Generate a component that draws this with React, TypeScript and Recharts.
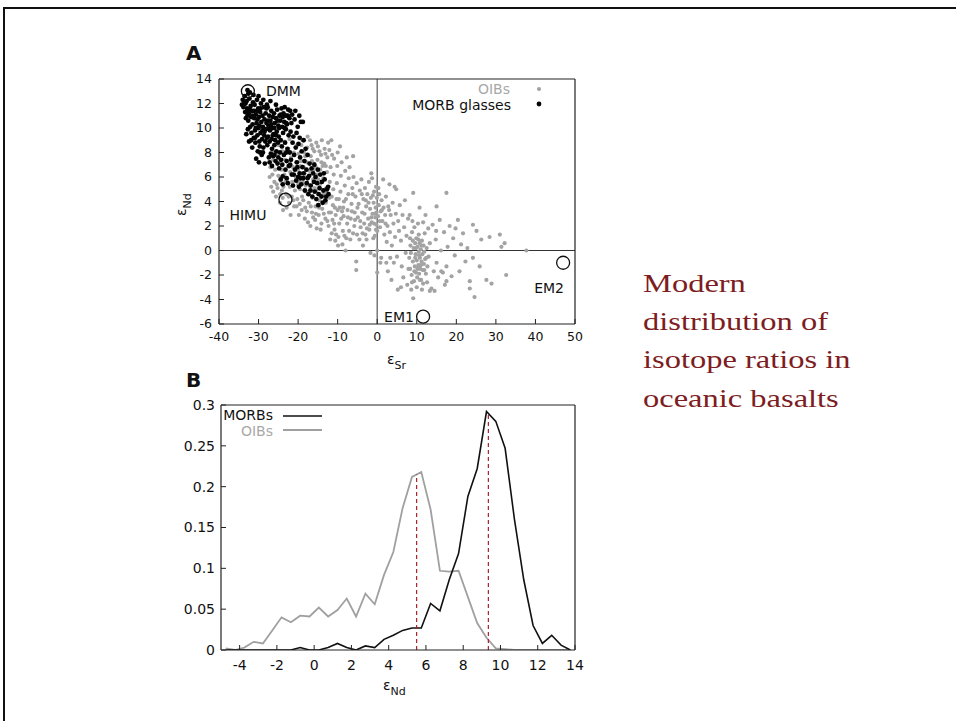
import React from "react";
import {
  ScatterChart,
  Scatter,
  LineChart,
  Line,
  XAxis,
  YAxis,
  ReferenceLine,
} from "recharts";

// panel A: eps Sr vs eps Nd, [Sr, Nd]
const oibPoints: [number, number][] = [
  [-27,6.8],[-26.5,6.2],[-26.3,7.4],[-26,5.6],[-25.8,6.6],[-25.5,7.9],[-25.2,5.1],[-25,6.1],[-24.8,7.2],[-24.5,4.6],
  [-24.4,5.7],[-24.2,6.6],[-24,8.1],[-23.8,3.3],[-23.7,5.2],[-23.5,6.2],[-23.3,7.4],[-23,4.6],[-22.8,5.8],[-22.6,6.9],
  [-22.5,8.3],[-22.3,3.9],[-22.1,5.2],[-22,6.4],[-21.8,7.6],[-21.6,4.4],[-21.5,5.6],[-21.3,6.8],[-21.1,8.0],[-21,3.6],
  [-20.8,4.9],[-20.6,6.0],[-20.5,7.2],[-20.3,8.6],[-20.2,4.2],[-20,5.4],[-20,6.6],[-24.6,3.9],[-23.9,4.3],[-22.9,3.5],
  [-21.9,2.9],[-25.6,4.4],[-26.8,5.2],[-27.2,6.0],[-26.1,8.0],[-24.9,8.6],[-23.4,8.9],[-22.2,9.1],
  [-19.8,2.9],[-19.6,3.8],[-19.5,5.0],[-19.4,6.2],[-19.3,7.3],[-19.2,8.6],[-19,4.4],[-18.8,5.6],[-18.6,6.8],[-18.5,8.0],
  [-18.3,2.6],[-18.2,3.5],[-18,4.8],[-17.9,6.0],[-17.8,7.2],[-17.7,8.4],[-17.6,9.3],[-17.5,2.3],[-17.3,3.9],[-17.1,5.3],
  [-17,6.5],[-16.8,7.7],[-16.6,8.6],[-16.5,3.1],[-16.4,4.3],[-16.2,5.8],[-16,7.1],[-15.9,8.1],[-15.7,2.5],[-15.6,3.6],
  [-15.4,4.9],[-15.2,6.2],[-15.1,7.4],[-15,8.5],[-14.8,2.9],[-14.6,4.1],[-14.5,5.4],[-14.4,6.6],[-14.2,7.8],[-14.1,2.2],
  [-14,9.0],[-13.9,3.4],[-13.7,4.6],[-13.6,5.9],[-13.4,7.1],[-13.3,8.3],[-13.1,2.6],[-13,3.9],[-12.9,5.1],[-12.7,6.4],
  [-12.6,7.6],[-12.4,8.8],[-12.3,2.0],[-12.2,3.1],[-12.1,4.3],[-12,5.6],[-18.9,9.0],[-16.9,2.0],[-15.3,1.8],[-14.3,1.7],
  [-19.9,7.9],[-17.4,4.6],[-16.1,6.6],[-14.9,5.8],[-13.8,6.9],[-12.8,4.7],[-18.4,6.3],[-15.8,5.1],
  [-26.3,4.8],[-25.4,5.4],[-24.1,4.9],[-23.2,5.6],[-22.4,4.4],[-21.2,4.1],[-20.4,3.6],[-19.1,3.3],[-18.7,4.1],[-17.8,3.2],
  [-16.8,3.6],[-16.2,2.7],[-15.5,3.0],[-14.7,3.5],[-13.5,3.0],[-12.6,2.4],[-19.7,5.6],[-18.1,5.3],[-16.7,4.9],[-15.5,5.6],
  [-14.2,5.0],[-13.2,4.4],[-19.4,6.9],[-17.9,6.6],[-16.5,7.3],[-15.5,6.8],[-14.1,7.2],[-13,6.9],[-18.2,7.7],[-16.3,8.3],
  [-14.6,8.1],[-13.1,7.9],[-17,9.0],[-15.4,8.8],[-12.1,8.2],
  [-11.8,6.8],[-11.6,9.0],[-11.5,1.4],[-11.3,2.5],[-11.2,3.7],[-11.1,5.0],[-11,6.2],[-10.9,7.5],[-10.8,1.7],[-10.6,0.8],
  [-10.5,2.9],[-10.3,4.2],[-10.2,5.5],[-10.1,6.9],[-10,8.0],[-9.8,1.1],[-9.6,2.2],[-9.5,3.5],[-9.3,4.8],[-9.2,6.1],
  [-9,7.2],[-8.8,0.5],[-8.7,1.6],[-8.5,2.8],[-8.4,4.0],[-8.2,5.3],[-8.1,6.5],[-8,0.0],[-7.8,1.0],[-7.6,2.2],
  [-7.5,3.3],[-7.3,4.6],[-7.2,5.9],[-7,6.8],[-6.8,0.9],[-6.7,2.6],[-6.5,3.8],[-6.3,5.1],[-6.1,7.7],[-6.1,1.4],
  [-6,6.0],[-5.8,2.0],[-5.7,3.1],[-5.5,4.4],[-5.3,-0.9],[-5.3,-1.6],[-5.2,5.5],[-5.1,1.3],[-9.4,8.5],[-11.4,7.8],
  [-7.7,7.6],[-8.9,3.2],[-10.7,3.5],
  [-11.7,3.1],[-11.5,4.4],[-10.9,2.2],[-10.4,1.3],[-10,3.3],[-9.7,4.2],[-9.1,2.6],[-8.6,3.5],[-8.3,1.2],[-7.9,4.2],
  [-7.4,2.7],[-7.1,1.6],[-6.4,3.2],[-6.2,4.6],[-5.6,2.5],[-9.9,0.4],[-11.9,0.9],
  [-4.9,2.7],[-4.7,3.8],[-4.5,0.9],[-4.4,4.9],[-4.2,1.9],[-4,5.8],[-3.8,3.1],[-3.6,0.4],[-3.5,4.2],[-3.3,2.2],
  [-3.1,5.1],[-3,1.3],[-2.8,3.6],[-2.7,0.9],[-2.5,4.6],[-2.3,2.6],[-2.1,5.6],[-2,1.7],[-1.8,3.4],[-1.6,4.3],
  [-1.5,6.3],[-1.4,2.3],[-1.3,5.9],[-1.2,3.0],[-1,1.0],[-0.9,3.9],[-0.8,4.8],[-0.6,1.2],[-0.5,2.7],[-0.4,3.5],
  [-0.3,5.2],[-0.2,2.1],[-0.1,4.3],[0,1.6],[0,0],[0,-1.8],[-0.2,3.1],[-0.7,-0.4],[-1.7,-0.2],
  [-5,3.5],[-4.3,2.4],[-3.9,4.6],[-3.2,3.0],[-2.6,1.8],[-2.2,3.9],[-1.5,2.7],[-1.1,4.5],[-0.6,3.0],[-0.3,1.7],
  [-0.8,2.2],[-1.9,2.1],[-3.7,1.4],[-2.9,4.1],
  [0.2,2.8],[0.4,3.7],[0.5,4.6],[0.7,1.9],[0.9,3.2],[1.1,4.1],[1.3,2.4],[1.5,5.8],[1.6,3.5],[1.8,1.3],
  [2,2.9],[2.2,4.4],[2.4,0.7],[2.6,2.0],[2.7,-1.7],[2.8,3.6],[3.1,5.4],[3.2,1.5],[3.4,2.9],[3.6,-2.4],
  [3.7,0.4],[3.9,3.9],[4.1,2.2],[4.4,5.2],[4.5,1.1],[4.7,3.0],[4.8,5.0],[5,-0.5],[5.2,-3.2],[5.3,2.4],
  [5.5,1.6],[5.7,3.7],[6,0.8],[6.2,-1.3],[6.4,2.9],[6.6,-2.2],[6.8,1.9],[7,4.1],[7.2,-0.2],[7.4,1.2],
  [7.6,-2.8],[7.8,2.6],[4.2,-1.0],[1.0,-0.6],[6.0,-3.0],
  [0.6,2.4],[1.2,3.3],[2.1,2.2],[3.0,3.3],[0.3,5.1],[0.8,-1.0],[2.3,-1.0],[3.3,-0.6],
  [8.1,-0.6],[8.2,2.9],[8.3,-1.5],[8.4,0.4],[8.6,-3.2],[8.7,-2.0],[8.8,1.5],[9,-0.9],[9.1,-3.9],[9.1,4.7],
  [9.2,0.2],[9.3,-2.5],[9.5,-1.3],[9.6,0.6],[9.7,-0.3],[9.8,-1.8],[9.9,1.0],[10,-0.8],[10.1,-2.2],[10.2,0.3],
  [10.3,2.2],[10.4,-1.2],[10.5,-0.1],[10.6,-1.9],[10.7,3.5],[10.7,0.6],[10.8,-0.6],[10.9,-1.5],[11,0.1],[11.1,-2.4],
  [11.2,-0.9],[11.3,0.8],[11.4,-0.3],[11.5,-1.6],[11.6,-2.7],[11.7,0.4],[11.8,-1.1],[11.9,-0.1],[12,1.4],[12.1,-0.7],
  [12.3,-1.9],[12.5,0.2],[12.7,-1.3],[12.9,1.8],[13,-0.5],[9.4,1.9],[10.5,1.3],[11.6,2.3],[8.9,2.4],[12.2,2.9],
  [8.5,-0.2],[9.0,0.8],[9.4,-1.7],[9.8,0.2],[10.2,-1.5],[10.6,-0.4],[11.0,-1.2],[11.2,0.4],[10.4,0.9],[9.6,-0.6],
  [10.8,-2.4],[11.9,-1.6],[12.4,-0.6],[8.3,1.0],[7.9,-1.5],[8.8,-2.6],[10.0,-3.0],[11.3,-3.2],[12.6,-2.6],
  [13.3,0.6],[13.3,-3.3],[13.7,-3.1],[14,2.1],[14.3,-1.7],[14.5,-3.3],[14.8,0.9],[15,-1],[15,3.6],[15.4,-2.2],
  [15.8,2.5],[16.2,-1.7],[16.6,-1.8],[16.9,1.5],[17.1,-2.8],[17.5,-1.3],[17.5,-2.5],[17.5,4.7],[17.8,0.3],[18.3,2],
  [18.8,-2.1],[19.2,1.0],[19.6,-0.4],[20.4,2.5],[20.8,-1.7],[21.2,0.5],[21.7,1.4],[22.3,-0.9],[23.4,-2.5],[23.4,-3.1],
  [24.2,2.1],[24.2,-0.6],[24.6,-3.8],[25.1,1.6],[25.9,-1.3],[26.3,0.9],[27.6,-2.4],[28.4,1.1],[28.9,-2.7],[31,1.3],
  [31.4,0.3],[32.2,0.6],[32.6,-2],[37.7,0],[19.8,1.8],[22.8,0.2],[16.1,0.0],[14.9,1.6],
];

const morbPoints: [number, number][] = [
  [-34,12.3],[-33.8,11.7],[-33.6,12.0],[-33.4,11.3],[-33.2,10.8],[-33,12.2],[-32.9,11.6],[-32.7,9.9],[-32.6,10.6],[-32.5,11.2],
  [-32.3,12.4],[-32.1,10.1],[-32,11.8],[-31.9,10.9],[-31.8,9.6],[-31.7,11.4],[-31.5,10.3],[-31.4,12.1],[-31.2,9.2],[-31.1,10.8],
  [-31,11.9],[-30.9,9.8],[-30.8,8.8],[-30.7,11.1],[-30.5,10.4],[-30.4,12.3],[-30.3,9.4],[-30.2,8.1],[-30.1,11.6],[-30,10.0],
  [-29.9,10.9],[-29.8,8.9],[-29.7,8.5],[-29.6,11.3],[-29.5,9.6],[-29.4,12.0],[-29.3,10.5],[-29.2,7.8],[-29.1,9.1],[-29,11.0],
  [-28.9,10.1],[-28.8,8.4],[-28.7,11.7],[-28.6,9.4],[-28.5,10.7],[-28.4,7.1],[-28.3,8.9],[-28.2,11.2],[-28.1,9.9],[-28,10.4],
  [-31.6,8.4],[-30.6,7.5],[-29.9,7.2],[-33.1,9.5],[-32.4,8.9],[-30.0,12.6],[-31.3,12.7],[-28.8,12.3],[-33.5,12.6],
  [-32.8,13.1],[-32.2,12.9],[-32.6,12.8],
  [-33.3,12.0],[-32.8,11.0],[-32.2,11.5],[-31.6,11.0],[-31.2,11.4],[-30.7,10.0],[-30.3,10.7],[-29.8,10.2],[-29.5,11.6],[-29.0,9.8],
  [-28.5,9.7],[-28.0,11.6],[-31.9,9.0],[-30.9,9.2],[-29.6,8.0],[-28.9,8.0],[-30.4,11.4],[-33.0,11.3],[-34.2,11.9],
  [-27.9,11.9],[-27.8,8.6],[-27.7,11.7],[-27.6,9.3],[-27.5,10.2],[-27.4,7.6],[-27.3,11.0],[-27.2,8.9],[-27.1,9.8],[-27,10.6],
  [-26.9,7.9],[-26.8,11.4],[-26.7,9.1],[-26.6,8.3],[-26.5,10.0],[-26.4,10.9],[-26.3,7.7],[-26.2,9.5],[-26.1,11.2],[-26,8.6],
  [-25.9,10.4],[-25.8,9.0],[-25.7,7.3],[-25.6,10.8],[-25.5,8.1],[-25.4,9.7],[-25.3,11.5],[-25.2,7.1],[-25.1,8.8],[-25,10.2],
  [-24.9,9.3],[-24.8,6.7],[-24.7,11.0],[-24.6,8.0],[-24.5,10.6],[-24.4,9.0],[-24.3,7.4],[-24.2,11.6],[-24.1,8.5],[-24,10.1],
  [-23.9,6.05],[-23.8,9.6],[-23.7,11.2],[-23.6,7.8],[-23.5,10.5],[-23.4,11.7],[-23.3,8.8],[-23.2,6.6],[-23.1,9.9],[-23,11.0],
  [-22.9,7.3],[-22.8,10.3],[-22.7,8.3],[-22.6,5.5],[-22.5,11.5],[-22.4,9.4],[-22.3,6.9],[-22.2,10.8],[-22.1,8.0],[-27.0,12.2],
  [-25.6,11.9],[-26.6,6.9],[-23.9,5.4],[-22.9,5.9],[-24.4,5.8],
  [-27.6,10.6],[-27.2,10.0],[-26.8,10.3],[-26.4,9.4],[-26.0,10.0],[-25.6,9.4],[-25.2,10.6],[-24.8,10.0],[-24.4,11.1],[-23.9,10.9],
  [-23.4,10.0],[-23.0,10.4],[-22.6,11.0],[-27.9,9.2],[-27.2,7.2],[-26.0,7.8],[-25.0,7.6],[-24.0,7.0],[-23.0,8.0],[-22.0,7.0],
  [-21.9,9.7],[-21.8,7.4],[-21.7,10.4],[-21.6,6.2],[-21.4,8.8],[-21.3,5.3],[-21.2,9.3],[-21,7.8],[-20.9,10.7],[-20.8,6.6],
  [-20.6,8.4],[-20.5,5.7],[-20.4,9.6],[-20.3,7.2],[-20.1,10.1],[-20,6.0],[-19.9,8.7],[-19.8,5.2],[-19.6,9.2],[-19.6,6.3],
  [-19.5,7.6],[-19.3,10.5],[-19.2,5.4],[-19.1,8.1],[-18.9,6.8],[-18.8,10.5],[-18.7,5.9],[-18.6,9.0],[-18.4,7.3],[-18.3,4.9],
  [-18.1,8.3],[-17.9,6.6],[-17.8,5.5],[-17.6,7.8],[-17.4,4.6],[-17.2,6.1],[-17.1,7.1],[-21.5,11.1],[-20.7,11.4],[-19.7,11.0],
  [-22,11.4],[-21.1,6.2],[-20.2,6.8],[-19.4,5.9],[-18.6,6.3],[-17.6,5.9],[-16.9,4.9],
  [-16.8,5.3],[-16.6,6.7],[-16.4,4.4],[-16.2,6.3],[-16,5.6],[-15.8,4.8],[-15.6,6.0],[-15.4,4.2],[-15.2,5.5],[-15,6.6],
  [-14.8,4.6],[-14.6,5.1],[-14.4,6.2],[-14.1,4.4],[-14,5.6],[-13.8,3.9],[-13.6,4.9],[-13.3,5.8],[-13.1,4.1],[-12.9,4.4],
  [-12.7,5.0],[-12.4,5.2],[-12.3,4.6],[-13.5,6.3],[-15.9,7.0],[-14.9,3.7],
];

const endMemberNames = ["DMM", "HIMU", "EM1", "EM2"];
const endMemberSr = [-32.7, -23.2, 11.6, 47];
const endMemberNd = [13.0, 4.15, -5.4, -1.0];

const srTicks = [-40, -30, -20, -10, 0, 10, 20, 30, 40, 50];
const ndTicksA = [-6, -4, -2, 0, 2, 4, 6, 8, 10, 12, 14];

// panel B: frequency distributions of eps Nd
const ndBins = [
  -4.75, -4.25, -3.75, -3.25, -2.75, -2.25, -1.75, -1.25, -0.75, -0.25,
  0.25, 0.75, 1.25, 1.75, 2.25, 2.75, 3.25, 3.75, 4.25, 4.75,
  5.25, 5.75, 6.25, 6.75, 7.25, 7.75, 8.25, 8.75, 9.25, 9.75,
  10.25, 10.75, 11.25, 11.75, 12.25, 12.75, 13.25, 13.75,
];
const morbFreq = [
  0, 0, 0, 0, 0, 0, 0, 0, 0.003, 0,
  0, 0.003, 0.008, 0.003, 0, 0.005, 0.003, 0.013, 0.018, 0.024,
  0.027, 0.027, 0.057, 0.048, 0.086, 0.118, 0.188, 0.222, 0.292, 0.28,
  0.247, 0.16, 0.086, 0.03, 0.008, 0.018, 0.006, 0,
];
const oibFreq = [
  0.002, 0, 0.003, 0.01, 0.008, 0.024, 0.04, 0.034, 0.042, 0.041,
  0.052, 0.041, 0.049, 0.063, 0.041, 0.069, 0.056, 0.092, 0.12, 0.174,
  0.212, 0.218, 0.172, 0.097, 0.096, 0.097, 0.065, 0.033, 0.015, 0.002,
  0.001, 0, 0, 0, 0, 0, 0, 0,
];
const meanNd = [5.5, 9.35];
const meanTop = [0.215, 0.29];

const ndTicksB = [-4, -2, 0, 2, 4, 6, 8, 10, 12, 14];
const freqTicks = [0, 0.05, 0.1, 0.15, 0.2, 0.25, 0.3];

const titleLines = ["Modern", "distribution of", "isotope ratios in", "oceanic basalts"];

const labelOffset: Record<string, [number, number]> = {
  DMM: [18, 5],
  HIMU: [-56, 20],
  EM1: [-39, 5],
  EM2: [-29, 30],
};

const oibData = oibPoints.map(([x, y]) => ({ x, y }));
const morbData = morbPoints.map(([x, y]) => ({ x, y }));
const endMembers = endMemberNames.map((name, i) => ({
  name,
  x: endMemberSr[i],
  y: endMemberNd[i],
}));
const histData = ndBins.map((nd, i) => ({ nd, morb: morbFreq[i], oib: oibFreq[i] }));

const FONT = "DejaVu Sans";
const frame = { stroke: "#222", strokeWidth: 1.2 };
const tickA = { fontSize: 12.5, fill: "#111", fontFamily: FONT };
const tickB = { fontSize: 14, fill: "#111", fontFamily: FONT };

const EndMember = (p: any) => {
  const [dx, dy] = labelOffset[p.payload.name];
  return (
    <g>
      <circle cx={p.cx} cy={p.cy} r={6.5} fill="none" stroke="#111" strokeWidth={1.3} />
      <text x={p.cx + dx} y={p.cy + dy} fontSize={14} fontFamily={FONT} fill="#111">
        {p.payload.name}
      </text>
    </g>
  );
};

function PanelA() {
  return (
    <ScatterChart
      width={430}
      height={294}
      margin={{ top: 18, right: 14, left: 19, bottom: 0 }}
    >
      <XAxis
        type="number"
        dataKey="x"
        domain={[-40, 50]}
        ticks={srTicks}
        allowDataOverflow
        height={30}
        tickSize={-5}
        tickMargin={13}
        tick={tickA}
        axisLine={frame}
        tickLine={{ stroke: "#222" }}
      />
      <XAxis
        xAxisId="top"
        orientation="top"
        type="number"
        domain={[-40, 50]}
        ticks={srTicks}
        allowDataOverflow
        height={1}
        tickSize={-5}
        tick={false}
        axisLine={frame}
        tickLine={{ stroke: "#bbb" }}
      />
      <YAxis
        type="number"
        dataKey="y"
        domain={[-6, 14]}
        ticks={ndTicksA}
        allowDataOverflow
        width={40}
        tickSize={-5}
        tickMargin={12}
        tick={tickA}
        axisLine={frame}
        tickLine={{ stroke: "#222" }}
      />
      <YAxis
        yAxisId="right"
        orientation="right"
        type="number"
        domain={[-6, 14]}
        ticks={ndTicksA}
        allowDataOverflow
        width={1}
        tickSize={-5}
        tick={false}
        axisLine={frame}
        tickLine={{ stroke: "#bbb" }}
      />
      <ReferenceLine x={0} stroke="#777" strokeWidth={1.5} />
      <ReferenceLine y={0} stroke="#333" strokeWidth={1.2} />
      <Scatter
        data={oibData}
        isAnimationActive={false}
        shape={(p: any) => <circle cx={p.cx} cy={p.cy} r={2.1} fill="#a3a3a3" />}
      />
      <Scatter
        data={morbData}
        isAnimationActive={false}
        shape={(p: any) => <circle cx={p.cx} cy={p.cy} r={2.4} fill="#050505" />}
      />
      <Scatter data={endMembers} isAnimationActive={false} shape={EndMember} />
    </ScatterChart>
  );
}

function PanelB() {
  return (
    <LineChart
      width={430}
      height={290}
      data={histData}
      margin={{ top: 14, right: 14, left: 21, bottom: 0 }}
    >
      <XAxis
        type="number"
        dataKey="nd"
        domain={[-5, 14]}
        ticks={ndTicksB}
        allowDataOverflow
        height={30}
        tickSize={-5}
        tickMargin={15}
        tick={tickB}
        axisLine={frame}
        tickLine={{ stroke: "#222" }}
      />
      <XAxis
        xAxisId="top"
        orientation="top"
        type="number"
        domain={[-5, 14]}
        ticks={ndTicksB}
        allowDataOverflow
        height={1}
        tickSize={-5}
        tick={false}
        axisLine={frame}
        tickLine={{ stroke: "#222" }}
      />
      <YAxis
        type="number"
        domain={[0, 0.3]}
        ticks={freqTicks}
        allowDataOverflow
        width={40}
        tickSize={-5}
        tickMargin={11}
        tick={tickB}
        axisLine={frame}
        tickLine={{ stroke: "#222" }}
      />
      <YAxis
        yAxisId="right"
        orientation="right"
        type="number"
        domain={[0, 0.3]}
        ticks={freqTicks}
        allowDataOverflow
        width={1}
        tickSize={-5}
        tick={false}
        axisLine={frame}
        tickLine={{ stroke: "#bbb" }}
      />
      <Line
        type="linear"
        dataKey="oib"
        stroke="#a0a0a0"
        strokeWidth={1.8}
        dot={false}
        isAnimationActive={false}
      />
      <Line
        type="linear"
        dataKey="morb"
        stroke="#111"
        strokeWidth={1.6}
        dot={false}
        isAnimationActive={false}
      />
      {meanNd.map((nd, i) => (
        <ReferenceLine
          key={nd}
          segment={[
            { x: nd, y: 0 },
            { x: nd, y: meanTop[i] },
          ]}
          stroke="#a8232a"
          strokeWidth={1.2}
          strokeDasharray="4 3"
        />
      ))}
    </LineChart>
  );
}

export default function App() {
  return (
    <div
      style={{
        position: "absolute",
        left: 0,
        top: 0,
        width: 956,
        height: 721,
        overflow: "hidden",
        background: "#fff",
        fontFamily: FONT,
      }}
    >
      <div
        style={{
          position: "absolute",
          left: 3,
          top: 7,
          width: 970,
          height: 730,
          borderTop: "2.5px solid #111",
          borderLeft: "2.5px solid #111",
        }}
      />
      <div style={{ position: "absolute", left: 160, top: 60 }}>
        <PanelA />
      </div>
      <div style={{ position: "absolute", left: 160, top: 390 }}>
        <PanelB />
      </div>
      <svg
        width={956}
        height={721}
        style={{ position: "absolute", left: 0, top: 0, pointerEvents: "none" }}
        fontFamily={FONT}
      >
        <text x={186} y={60} fontSize={20} fontWeight="bold" fill="#111">A</text>
        <text x={186} y={387} fontSize={20} fontWeight="bold" fill="#111">B</text>

        <text x={510} y={94} fontSize={14} textAnchor="end" fill="#a8a8a8">OIBs</text>
        <circle cx={539} cy={89} r={2.1} fill="#a3a3a3" />
        <text x={511} y={110} fontSize={14} textAnchor="end" fill="#111">MORB glasses</text>
        <circle cx={539} cy={104} r={2.4} fill="#050505" />

        <text x={387} y={364} fontSize={14} fill="#111">
          ε<tspan fontSize={11} dy={5}>Sr</tspan>
        </text>
        <text transform="translate(186,216) rotate(-90)" fontSize={14} fill="#111">
          ε<tspan fontSize={11} dy={5}>Nd</tspan>
        </text>
        <text x={383} y={690} fontSize={14} fill="#111">
          ε<tspan fontSize={11} dy={5}>Nd</tspan>
        </text>

        <text x={273} y={420} fontSize={14} textAnchor="end" fill="#111">MORBs</text>
        <line x1={283} y1={416} x2={322} y2={416} stroke="#111" strokeWidth={1.6} />
        <text x={273} y={436} fontSize={14} textAnchor="end" fill="#a8a8a8">OIBs</text>
        <line x1={283} y1={430} x2={322} y2={430} stroke="#a0a0a0" strokeWidth={1.8} />

        {titleLines.map((t, i) => (
          <text
            key={t}
            transform={`translate(643,${292 + i * 38.2}) scale(1.25,1)`}
            fontFamily="Liberation Serif"
            fontSize={26}
            fill="#7d1d22"
          >
            {t}
          </text>
        ))}
      </svg>
    </div>
  );
}
